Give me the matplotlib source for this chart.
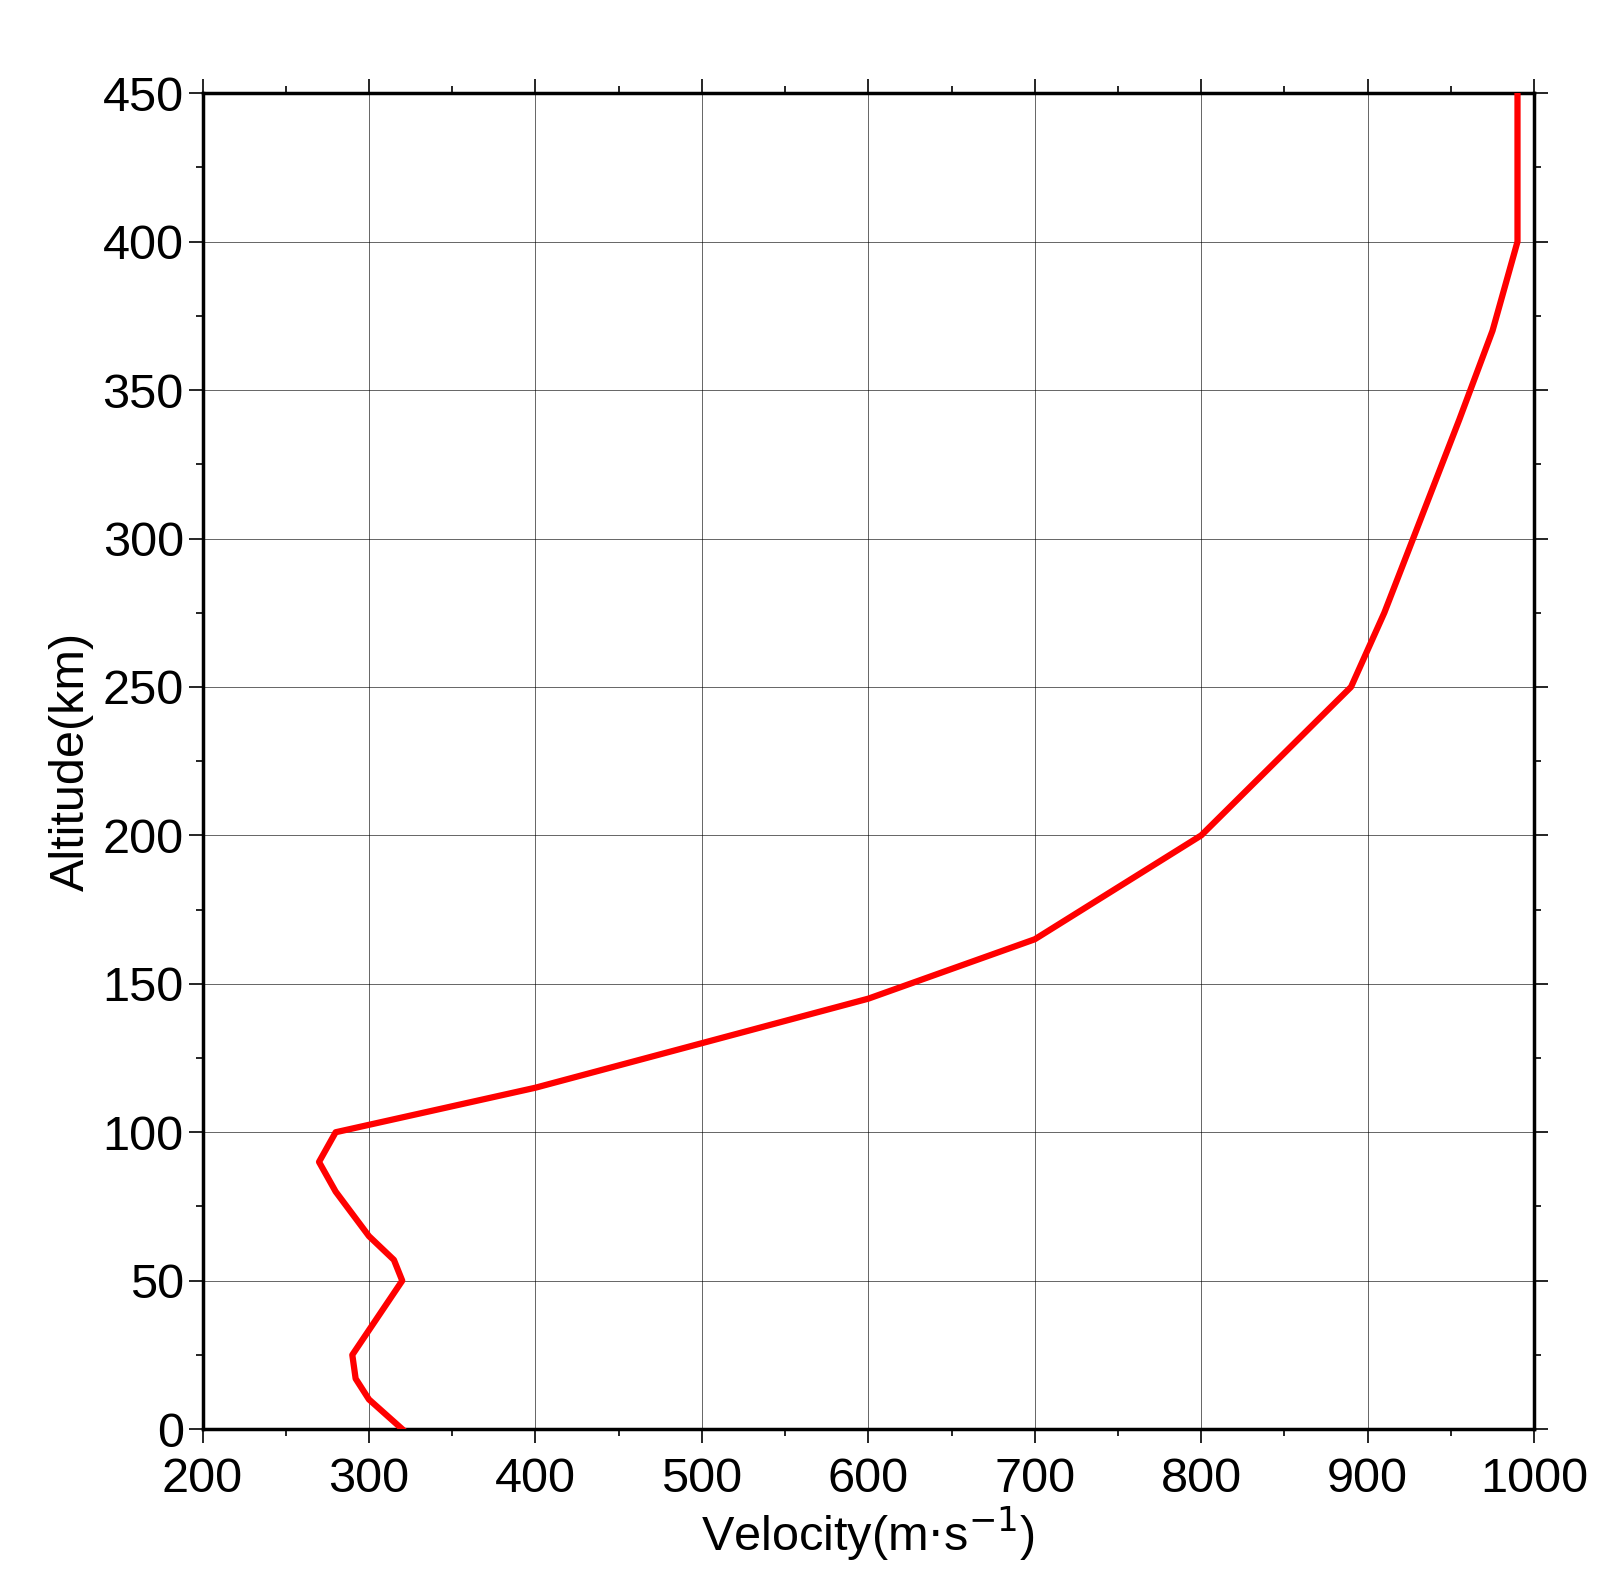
import matplotlib
matplotlib.use("Agg")
import matplotlib.pyplot as plt
from matplotlib.ticker import MultipleLocator

velocity = [320, 300, 292, 290, 320, 315, 300, 280, 270, 280, 400, 500, 600, 625, 700, 800, 890, 910, 955, 975, 990, 990]
altitude = [0, 10, 17, 25, 50, 57, 65, 80, 90, 100, 115, 130, 145, 150, 165, 200, 250, 275, 340, 370, 400, 450]

plt.rcParams['font.family'] = ['Liberation Sans', 'DejaVu Sans']
fig = plt.figure(figsize=(16.2, 15.8), dpi=100)
ax = fig.add_axes([0.125, 0.0955, 0.822, 0.8455])
ax.plot(velocity, altitude, color='#ff0000', lw=4.5, zorder=3)
ax.set_xlim(200, 1000)
ax.set_ylim(0, 450)
ax.xaxis.set_major_locator(MultipleLocator(100))
ax.xaxis.set_minor_locator(MultipleLocator(50))
ax.yaxis.set_major_locator(MultipleLocator(50))
ax.yaxis.set_minor_locator(MultipleLocator(25))
ax.grid(True, which='major', color='black', lw=0.6, alpha=0.7)
ax.tick_params(which='both', direction='out', top=True, right=True, labelsize=35, width=1.2)
ax.tick_params(which='major', length=10)
ax.tick_params(which='minor', length=5)
ax.tick_params(axis='x', which='major', pad=10)
for s in ax.spines.values():
    s.set_linewidth(2.5)
ax.set_xlabel(r'Velocity(m$\cdot$s$^{-1}$)', fontsize=35, labelpad=2)
ax.set_ylabel('Altitude(km)', fontsize=35, labelpad=6)
fig.savefig('out.png', dpi=100)
